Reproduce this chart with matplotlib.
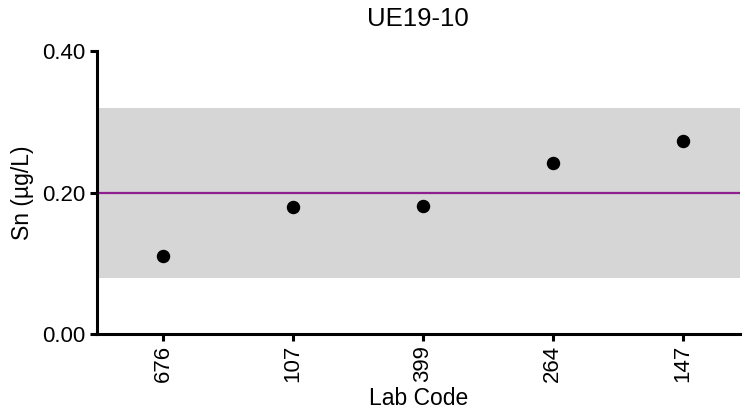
import numpy as np
import matplotlib.pyplot as plt

plt.rcParams['font.family'] = ['Liberation Sans', 'DejaVu Sans']

# data
lab_codes = ['676', '107', '399', '264', '147']
sn_values = [0.110, 0.180, 0.181, 0.242, 0.273]
assigned_value = 0.20
band_low, band_high = 0.08, 0.32

fig = plt.figure(figsize=(7.45, 4.12), dpi=100)
ax = fig.add_axes([0.130, 0.189, 0.863, 0.687])

x = np.arange(len(lab_codes))
ax.axhspan(band_low, band_high, color='#d6d6d6', lw=0, zorder=1)
ax.axhline(assigned_value, color='#8e1f8e', lw=1.6, zorder=2)
ax.scatter(x, sn_values, s=75, color='black', zorder=3)

ax.set_xlim(-0.51, 4.44)
ax.set_ylim(0, 0.40)
ax.set_yticks([0.0, 0.2, 0.4])
ax.set_yticklabels(['0.00', '0.20', '0.40'])
ax.set_xticks(x)
ax.set_xticklabels(lab_codes, rotation=90)

for s in ['top', 'right']:
    ax.spines[s].set_visible(False)
for s in ['left', 'bottom']:
    ax.spines[s].set_linewidth(2.2)
ax.tick_params(width=2.2, length=5, labelsize=16, pad=3)

ax.set_xlabel('Lab Code', fontsize=16.5, labelpad=3)
ax.set_ylabel('Sn (µg/L)', fontsize=16.5, labelpad=6)
ax.set_title('UE19-10', fontsize=18.5, pad=18)

plt.savefig('out.png', dpi=100)
